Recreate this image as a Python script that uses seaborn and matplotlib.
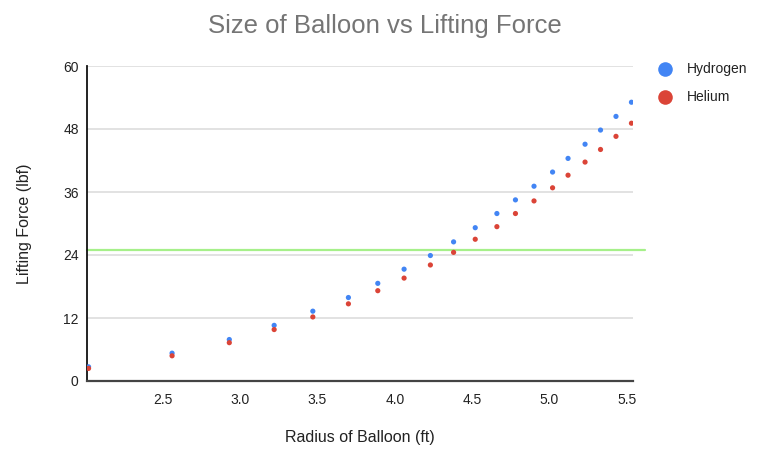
import matplotlib
matplotlib.use("Agg")
import matplotlib.pyplot as plt
import seaborn as sns
import pandas as pd

# Balloon radius (ft) and lifting force (lbf) for each gas
radius = [2.02, 2.56, 2.93, 3.22, 3.47, 3.70, 3.89, 4.06, 4.23, 4.38,
          4.52, 4.66, 4.78, 4.90, 5.02, 5.12, 5.23, 5.33, 5.43, 5.53]
hydrogen = [2.7, 5.3, 7.9, 10.6, 13.3, 15.9, 18.6, 21.3, 23.9, 26.5,
            29.2, 31.9, 34.5, 37.1, 39.8, 42.4, 45.1, 47.8, 50.4, 53.1]
helium = [2.4, 4.8, 7.3, 9.8, 12.2, 14.7, 17.2, 19.6, 22.1, 24.5,
          27.0, 29.4, 31.9, 34.3, 36.8, 39.2, 41.7, 44.1, 46.6, 49.1]
series = ["Hydrogen", "Helium"]
threshold = 25
y_ticks = [0, 12, 24, 36, 48, 60]
x_ticks = [2.5, 3.0, 3.5, 4.0, 4.5, 5.0, 5.5]

df = pd.DataFrame({
    "Radius": radius * 2,
    "Force": hydrogen + helium,
    "Gas": [series[0]] * len(radius) + [series[1]] * len(radius),
})

sns.set_theme(style="white")
plt.rcParams["font.family"] = ["Liberation Sans", "DejaVu Sans"]

colors = {"Hydrogen": "#4285F4", "Helium": "#DB4437"}

fig = plt.figure(figsize=(7.6, 4.5), dpi=100)
ax = fig.add_axes([87 / 760, 1 - 381 / 450, (633 - 87) / 760, (381 - 66) / 450])

sns.scatterplot(data=df, x="Radius", y="Force", hue="Gas", palette=colors,
                s=14, linewidth=0, ax=ax, legend=False, zorder=3)

ax.set_xlim(2.01, 5.54)
ax.set_ylim(0, 60)
ax.set_yticks(y_ticks)
ax.set_yticklabels([str(v) for v in y_ticks])
ax.set_xticks(x_ticks)
ax.set_xticklabels([f"{v:.1f}" for v in x_ticks])
ax.tick_params(axis="both", length=0, labelsize=10, colors="#222222")
ax.tick_params(axis="y", pad=6)
ax.tick_params(axis="x", pad=9)

ax.grid(axis="y", color="#dddddd", linewidth=1.2, zorder=0)
ax.grid(axis="x", visible=False)
for side in ["top", "right"]:
    ax.spines[side].set_visible(False)
ax.spines["left"].set_color("#111111")
ax.spines["left"].set_linewidth(1.3)
ax.spines["bottom"].set_color("#444444")
ax.spines["bottom"].set_linewidth(1.6)

# Reference line for the required lift
ax.axhline(threshold, xmin=0, xmax=1.022, color="#a6f08a", linewidth=1.6,
           clip_on=False, zorder=2)

ax.set_xlabel("Radius of Balloon (ft)", fontsize=11.5, color="#222222", labelpad=16)
ax.set_ylabel("Lifting Force (lbf)", fontsize=11.5, color="#222222", labelpad=22)

fig.suptitle("Size of Balloon vs Lifting Force", x=385 / 760, y=1 - 14 / 450,
             fontsize=18.5, color="#757575")

# Legend on the right
handles = [plt.Line2D([], [], marker="o", linestyle="", markersize=10.5,
                      markerfacecolor=colors[g], markeredgewidth=0, label=g)
           for g in series]
fig.legend(handles=handles, loc="upper left", bbox_to_anchor=(644 / 760, 1 - 50 / 450),
           frameon=False, fontsize=10, handletextpad=1.0, labelspacing=1.0,
           handlelength=1.2, labelcolor="#222222")

fig.savefig("out.png", dpi=100)
